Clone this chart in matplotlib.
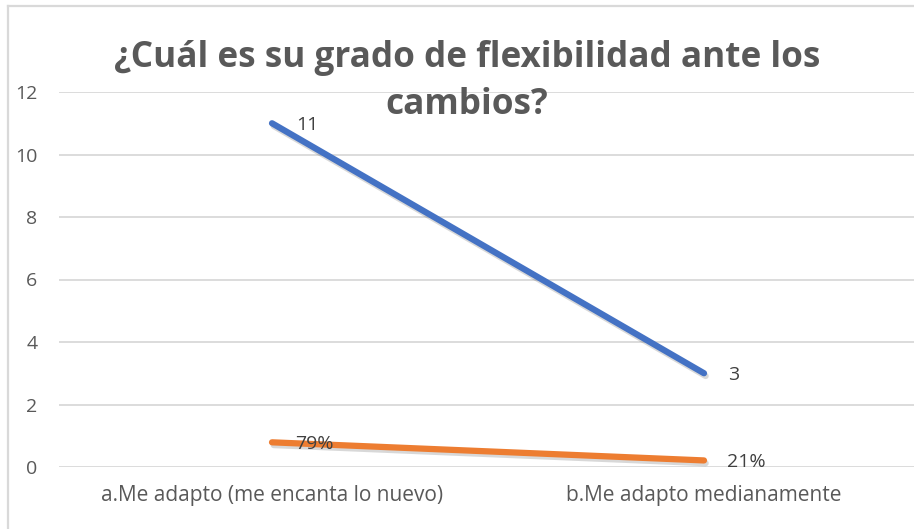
import matplotlib
matplotlib.use("Agg")
import matplotlib.pyplot as plt
import matplotlib.patheffects as pe
from matplotlib.lines import Line2D

categories = ["a.Me adapto (me encanta lo nuevo)", "b.Me adapto medianamente"]
counts = [11, 3]
shares = [0.79, 0.21]
share_labels = ["79%", "21%"]
yticks = [0, 2, 4, 6, 8, 10, 12]
title_lines = ["¿Cuál es su grado de flexibilidad ante los", "cambios?"]

plt.rcParams['font.family'] = ['Open Sans', 'DejaVu Sans']
W, H = 914, 529
fig = plt.figure(figsize=(W / 100, H / 100), dpi=100)
fig.patch.set_facecolor("white")
# chart border (left and top visible)
fig.add_artist(Line2D([8 / W, 8 / W], [0, 1 - 6 / H], transform=fig.transFigure,
                      color="#D9D9D9", linewidth=1.6))
fig.add_artist(Line2D([8 / W, 1], [1 - 6 / H, 1 - 6 / H], transform=fig.transFigure,
                      color="#D9D9D9", linewidth=1.6))

left, right = 59, 914
top, bottom = 92, 467
ax = fig.add_axes([left / W, 1 - bottom / H, (right - left) / W, (bottom - top) / H])
ax.set_facecolor("none")
x = list(range(len(categories)))
ax.set_xlim((left - 272) / 432, (right - 272) / 432)
ax.set_ylim(0, 12)

for s in ax.spines.values():
    s.set_visible(False)
ax.set_yticks(yticks)
ax.set_yticklabels([str(v) for v in yticks])
ax.tick_params(axis="y", length=0, pad=15.5, labelsize=14, labelcolor="#595959")
ax.set_xticks(x)
ax.set_xticklabels(categories)
ax.tick_params(axis="x", length=0, pad=13, labelsize=15, labelcolor="#595959")
ax.grid(axis="y", color="#D9D9D9", linewidth=1.3)
ax.set_axisbelow(True)

sh = [pe.SimpleLineShadow(offset=(1.2, -2.0), alpha=0.2, shadow_color="#404040"), pe.Normal()]
ax.plot(x, counts, color="#4472C4", linewidth=4.5, solid_capstyle="round",
        path_effects=sh, clip_on=False, zorder=3)
ax.plot(x, shares, color="#ED7D31", linewidth=4.5, solid_capstyle="round",
        path_effects=sh, clip_on=False, zorder=3)

for xi, v in zip(x, counts):
    ax.annotate(str(v), (xi, v), xytext=(24, -2),
                textcoords="offset pixels", fontsize=14, color="#404040",
                ha="left", va="center", zorder=4)
for xi, v, lab in zip(x, shares, share_labels):
    ax.annotate(lab, (xi, v), xytext=(23, -2),
                textcoords="offset pixels", fontsize=14, color="#404040",
                ha="left", va="center", zorder=4)

fig.text(467 / W, 1 - 67 / H, title_lines[0], ha="center", va="baseline", fontsize=25.3,
         fontweight="bold", color="#595959")
fig.text(467 / W, 1 - 114 / H, title_lines[1], ha="center", va="baseline", fontsize=25.3,
         fontweight="bold", color="#595959")

fig.savefig("out.png", dpi=100)
